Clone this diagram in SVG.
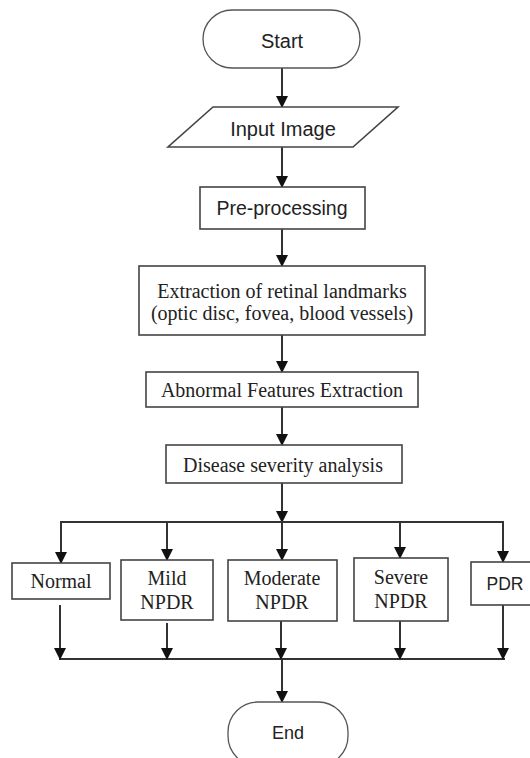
<svg xmlns="http://www.w3.org/2000/svg" width="530" height="758" viewBox="0 0 530 758">
  <defs>
    <marker id="ah" markerWidth="12" markerHeight="12" viewBox="0 0 12 12" refX="11" refY="6" orient="auto" markerUnits="userSpaceOnUse">
      <path d="M0,0 L12,6 L0,12 Z" fill="#111"/>
    </marker>
    <style>
      .box { fill: #fff; stroke: #444; stroke-width: 1.6; }
      .term { fill: #fff; stroke: #555; stroke-width: 1.3; }
      .sans { font-family: "Liberation Sans", Arial, sans-serif; fill: #222; text-anchor: middle; }
      .serif { font-family: "Liberation Serif", "Times New Roman", serif; fill: #222; text-anchor: middle; font-size: 20px; }
      .line { fill: none; stroke: #333; stroke-width: 2; }
      .arr { fill: none; stroke: #333; stroke-width: 2; marker-end: url(#ah); }
    </style>
  </defs>
  <rect width="530" height="758" fill="#fff"/>

  <g id="connectors">
    <line class="arr" x1="282" y1="68" x2="282" y2="107"/>
    <line class="arr" x1="282" y1="147" x2="282" y2="187"/>
    <line class="arr" x1="282" y1="229" x2="282" y2="266"/>
    <line class="arr" x1="282" y1="335" x2="282" y2="372"/>
    <line class="arr" x1="282" y1="407" x2="282" y2="445"/>
    <line class="arr" x1="282" y1="483" x2="282" y2="522"/>
    <polyline class="line" points="61,558 61,522 503,522 503,558"/>
    <line class="arr" x1="61" y1="522" x2="61" y2="563"/>
    <line class="arr" x1="167" y1="522" x2="167" y2="560"/>
    <line class="arr" x1="282" y1="522" x2="282" y2="560"/>
    <line class="arr" x1="400" y1="522" x2="400" y2="558"/>
    <line class="arr" x1="503" y1="522" x2="503" y2="562"/>
    <line class="line" x1="59" y1="659" x2="505" y2="659"/>
    <line class="arr" x1="60" y1="605" x2="60" y2="659"/>
    <line class="arr" x1="167" y1="623" x2="167" y2="659"/>
    <line class="arr" x1="281" y1="621" x2="281" y2="659"/>
    <line class="arr" x1="400" y1="621" x2="400" y2="659"/>
    <line class="arr" x1="503" y1="605" x2="503" y2="659"/>
    <line class="arr" x1="282" y1="659" x2="282" y2="702"/>
  </g>

  <g id="start">
    <rect class="term" x="203" y="10" width="157" height="58" rx="29" ry="29"/>
    <text class="sans" x="282" y="48" font-size="20">Start</text>
  </g>

  <g id="input-image">
    <polygon class="box" points="213,107 398,107 353,147 168,147"/>
    <text class="sans" x="283" y="136" font-size="20">Input Image</text>
  </g>

  <g id="pre-processing">
    <rect class="box" x="200" y="187" width="165" height="42"/>
    <text class="sans" x="282" y="215" font-size="19.5">Pre-processing</text>
  </g>

  <g id="landmarks">
    <rect class="box" x="139" y="266" width="286" height="69"/>
    <text class="serif" x="282" y="298">Extraction of retinal  landmarks</text>
    <text class="serif" x="282" y="320" font-size="18">(optic disc,  fovea, blood vessels)</text>
  </g>

  <g id="abnormal">
    <rect class="box" x="146" y="372" width="272" height="35"/>
    <text class="serif" x="282" y="397">Abnormal Features Extraction</text>
  </g>

  <g id="severity">
    <rect class="box" x="166" y="445" width="236" height="38"/>
    <text class="serif" x="283" y="472">Disease severity analysis</text>
  </g>

  <g id="normal">
    <rect class="box" x="12" y="563" width="98" height="36"/>
    <text class="serif" x="61" y="588">Normal</text>
  </g>

  <g id="mild">
    <rect class="box" x="121" y="560" width="92" height="60"/>
    <text class="serif" x="167" y="585">Mild</text>
    <text class="serif" x="167" y="609">NPDR</text>
  </g>

  <g id="moderate">
    <rect class="box" x="228" y="560" width="109" height="61"/>
    <text class="serif" x="282" y="585">Moderate</text>
    <text class="serif" x="282" y="609">NPDR</text>
  </g>

  <g id="severe">
    <rect class="box" x="354" y="558" width="94" height="63"/>
    <text class="serif" x="401" y="584">Severe</text>
    <text class="serif" x="401" y="608">NPDR</text>
  </g>

  <g id="pdr">
    <rect class="box" x="471" y="562" width="62" height="43"/>
    <text class="sans" x="505" y="590" font-size="17.5">PDR</text>
  </g>

  <g id="end">
    <rect class="term" x="228" y="702" width="120" height="64" rx="30" ry="30"/>
    <text class="sans" x="288" y="739" font-size="18">End</text>
  </g>
</svg>
